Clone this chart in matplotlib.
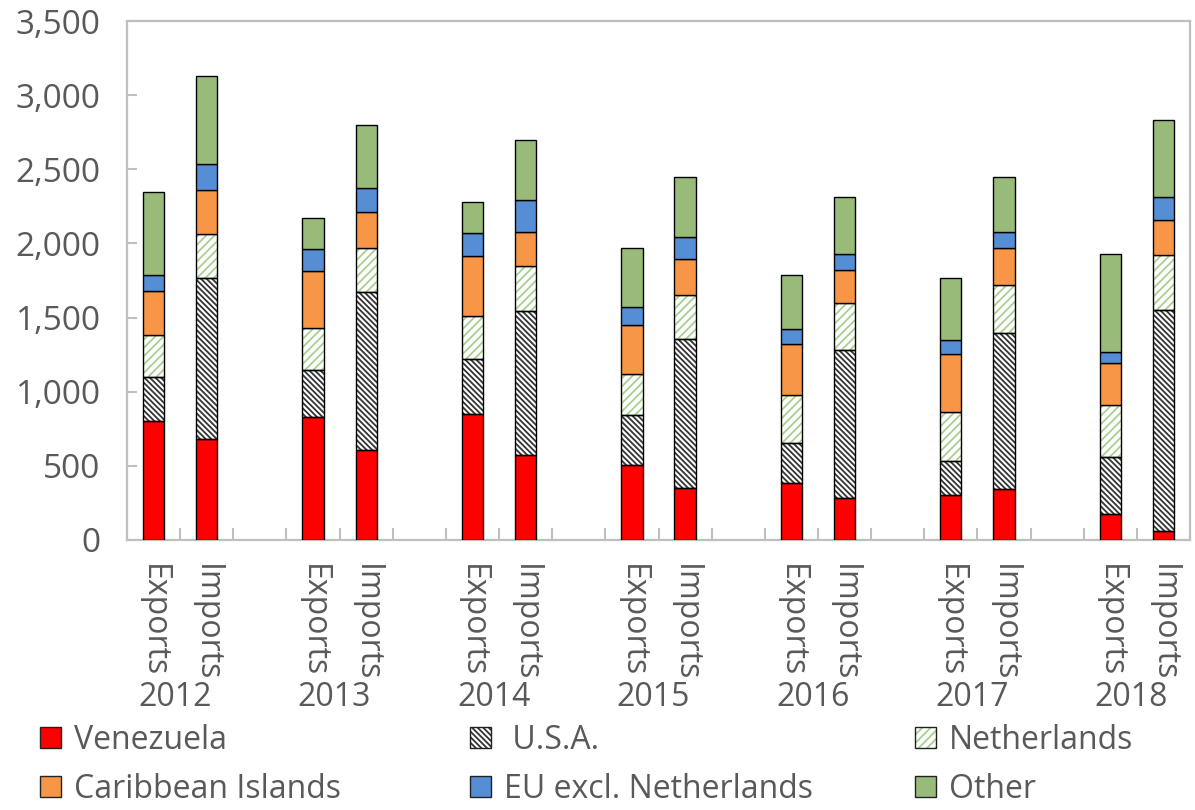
import numpy as np
import matplotlib
matplotlib.use("Agg")
import matplotlib.pyplot as plt
from matplotlib.patches import Patch
from matplotlib.legend_handler import HandlerTuple
from matplotlib.ticker import FuncFormatter, FixedLocator

plt.rcParams["font.family"] = ["Open Sans", "DejaVu Sans"]
plt.rcParams["hatch.linewidth"] = 1.3

years = ["2012", "2013", "2014", "2015", "2016", "2017", "2018"]
flows = ["Exports", "Imports"]

# values per (year, flow): Exports then Imports
venezuela = [800, 680, 831, 607, 852, 573, 506, 348, 382, 281, 303, 342, 173, 61]
usa = [300, 1087, 317, 1065, 368, 971, 335, 1007, 270, 1002, 227, 1052, 387, 1490]
netherlands = [285, 294, 279, 297, 288, 301, 278, 295, 323, 317, 331, 323, 350, 369]
caribbean = [295, 301, 389, 243, 409, 230, 331, 245, 344, 223, 393, 250, 281, 236]
eu_excl_nl = [110, 173, 144, 159, 151, 218, 123, 146, 101, 103, 92, 108, 77, 157]
other = [560, 594, 209, 425, 211, 402, 396, 404, 369, 389, 423, 370, 658, 519]

series = [
    ("Venezuela", venezuela, "#FF0000", None, None),
    (" U.S.A.", usa, "white", "\\\\\\\\\\\\", "#333333"),
    ("Netherlands", netherlands, "white", "////", "#A9CF8E"),
    ("Caribbean Islands", caribbean, "#F79646", None, None),
    ("EU excl. Netherlands", eu_excl_nl, "#558ED5", None, None),
    ("Other", other, "#98BB7A", None, None),
]

text_col = "#595959"
spine_col = "#BFBFBF"
fs = 23

# slot positions: exports, imports, gap for each year (no gap after last)
x = np.array([3 * i + j for i in range(len(years)) for j in range(2)], dtype=float)
width = 0.4

fig = plt.figure(figsize=(11.95, 8.1), dpi=100)
ax = fig.add_axes([127 / 1195, 1 - 540 / 810, (1190 - 127) / 1195, (540 - 21) / 810])

bottom = np.zeros(len(x))
handles = []
for name, vals, fc, hatch, hc in series:
    vals = np.array(vals, dtype=float)
    if hatch:
        ax.bar(x, vals, width, bottom=bottom, facecolor=fc, edgecolor=hc,
               hatch=hatch, linewidth=0, zorder=2)
        ax.bar(x, vals, width, bottom=bottom, facecolor="none",
               edgecolor="black", linewidth=1.0, zorder=3)
        h = (Patch(facecolor=fc, edgecolor=hc, hatch=hatch, linewidth=0),
             Patch(facecolor="none", edgecolor="#222222", linewidth=1.0))
    else:
        ax.bar(x, vals, width, bottom=bottom, facecolor=fc,
               edgecolor="black", linewidth=1.0, zorder=3)
        h = Patch(facecolor=fc, edgecolor="#222222", linewidth=1.0)
    handles.append((h, name))
    bottom += vals

ax.set_xlim(-0.5, 19.5)
ax.set_ylim(0, 3500)
ax.set_yticks(np.arange(0, 3501, 500))
ax.yaxis.set_major_formatter(FuncFormatter(lambda v, p: f"{int(v):,}"))

ax.set_xticks(x)
ax.set_xticklabels(flows * len(years), rotation=270, ha="center", va="top")
ax.xaxis.set_minor_locator(FixedLocator(np.arange(0.5, 19.5, 1.0)))

ax.tick_params(axis="x", which="major", length=0, pad=17, labelsize=fs,
               labelcolor=text_col)
ax.tick_params(axis="x", which="minor", direction="in", length=9,
               width=1.5, color=spine_col)
ax.tick_params(axis="y", direction="in", length=7, width=1.5, color=spine_col,
               pad=19, labelsize=fs + 1, labelcolor=text_col)

for s in ax.spines.values():
    s.set_color(spine_col)
    s.set_linewidth(1.6)

trans = matplotlib.transforms.blended_transform_factory(ax.transData, ax.transAxes)
for i, yr in enumerate(years):
    ax.text(3 * i + 0.4, -0.303, yr, transform=trans, ha="center", va="center",
            fontsize=fs, color=text_col)

# legend laid out in three columns like the original
col_x = [40, 470, 915]
order = [[0, 3], [1, 4], [2, 5]]
for cx, idx in zip(col_x, order):
    fig.legend([handles[k][0] for k in idx], [handles[k][1] for k in idx],
               loc="upper left", bbox_to_anchor=(cx / 1195, 1 - 724 / 810),
               frameon=False, fontsize=fs, labelcolor=text_col,
               handlelength=0.65, handleheight=0.65, handletextpad=0.4,
               labelspacing=0.5, borderpad=0, borderaxespad=0,
               handler_map={tuple: HandlerTuple(ndivide=1, pad=0)})

fig.savefig("out.png", dpi=100)
